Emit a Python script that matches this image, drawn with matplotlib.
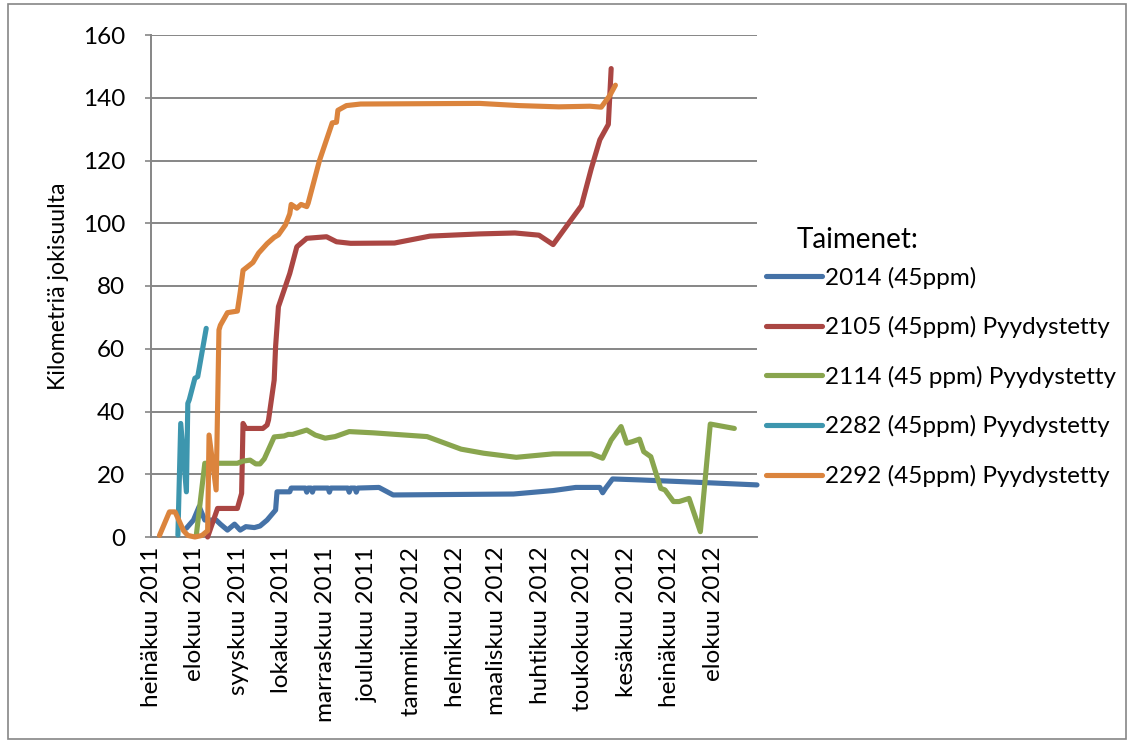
import numpy as np
import pandas as pd
import matplotlib
matplotlib.use("Agg")
import matplotlib.pyplot as plt
from matplotlib.patches import Rectangle

plt.rcParams["font.family"] = ["Lato", "DejaVu Sans"]

# --- data ---
d2014 = ["2011-07-26", "2011-07-31", "2011-08-04", "2011-08-08", "2011-08-16", "2011-08-19",
         "2011-08-24", "2011-08-29", "2011-09-02", "2011-09-06", "2011-09-12", "2011-09-16",
         "2011-09-21", "2011-09-27", "2011-09-28", "2011-10-07", "2011-10-08", "2011-10-18",
         "2011-10-19", "2011-10-20", "2011-10-22", "2011-10-23", "2011-10-24", "2011-11-03",
         "2011-11-04", "2011-11-05", "2011-11-17", "2011-11-18", "2011-11-19", "2011-11-22",
         "2011-11-23", "2011-11-24", "2011-12-09", "2011-12-19", "2012-03-13", "2012-04-10",
         "2012-04-26", "2012-05-13", "2012-05-15", "2012-05-17", "2012-05-22", "2012-06-10",
         "2012-07-28", "2012-09-01"]
v2014 = [2.8, 5.4, 9.7, 5.4, 5.4, 4.1,
         2.2, 4.1, 2.2, 3.3, 3.0, 3.5,
         5.4, 8.6, 14.4, 14.4, 15.6, 15.6,
         14.3, 15.6, 15.6, 14.3, 15.6, 15.6,
         14.3, 15.6, 15.6, 14.3, 15.6, 15.6,
         14.3, 15.6, 15.8, 13.4, 13.7, 14.8,
         15.8, 15.8, 14.1, 15.5, 18.5, 18.2,
         17.3, 16.6]

d2105 = ["2011-08-10", "2011-08-17", "2011-08-31", "2011-09-03", "2011-09-04", "2011-09-06",
         "2011-09-18", "2011-09-21", "2011-09-22", "2011-09-26", "2011-09-27", "2011-09-29",
         "2011-10-03", "2011-10-07", "2011-10-12", "2011-10-19", "2011-11-02", "2011-11-09",
         "2011-11-19", "2011-12-20", "2012-01-14", "2012-02-18", "2012-03-14", "2012-03-31",
         "2012-04-10", "2012-04-30", "2012-05-07", "2012-05-13", "2012-05-19", "2012-05-21"]
v2105 = [0.0, 9.1, 9.1, 13.9, 36.2, 34.6,
         34.6, 35.7, 37.3, 50.0, 60.7, 73.4,
         78.7, 84.0, 92.5, 95.2, 95.7, 94.1,
         93.6, 93.7, 95.9, 96.6, 96.9, 96.2,
         93.2, 105.6, 117.5, 126.6, 131.5, 149.3]

d2114 = ["2011-08-02", "2011-08-08", "2011-08-31", "2011-09-04", "2011-09-09", "2011-09-13",
         "2011-09-16", "2011-09-19", "2011-09-26", "2011-10-03", "2011-10-06", "2011-10-09",
         "2011-10-19", "2011-10-25", "2011-11-01", "2011-11-08", "2011-11-18", "2011-12-05",
         "2012-01-12", "2012-02-05", "2012-02-21", "2012-03-15", "2012-04-10", "2012-05-07",
         "2012-05-15", "2012-05-21", "2012-05-28", "2012-06-01", "2012-06-05", "2012-06-10",
         "2012-06-13", "2012-06-18", "2012-06-25", "2012-06-28", "2012-07-04", "2012-07-08",
         "2012-07-15", "2012-07-23", "2012-07-30", "2012-08-16"]
v2114 = [0.6, 23.5, 23.5, 24.2, 24.5, 23.3,
         23.3, 24.9, 31.9, 32.2, 32.7, 32.7,
         34.1, 32.5, 31.5, 32.0, 33.6, 33.2,
         32.0, 28.0, 26.7, 25.4, 26.5, 26.5,
         25.1, 30.9, 35.2, 29.9, 30.4, 31.2,
         27.2, 25.6, 15.5, 15.0, 11.3, 11.3,
         12.3, 1.7, 36.0, 34.6]

d2282 = ["2011-07-20", "2011-07-22", "2011-07-26", "2011-07-27", "2011-07-28", "2011-08-01",
         "2011-08-03", "2011-08-09"]
v2282 = [0.6, 36.2, 14.4, 42.6, 43.7, 50.6, 51.1, 66.5]

d2292 = ["2011-07-07", "2011-07-14", "2011-07-18", "2011-07-24", "2011-07-27", "2011-08-01",
         "2011-08-06", "2011-08-10", "2011-08-11", "2011-08-16", "2011-08-18", "2011-08-19",
         "2011-08-24", "2011-08-31", "2011-09-02", "2011-09-04", "2011-09-11", "2011-09-15",
         "2011-09-21", "2011-09-26", "2011-09-29", "2011-10-04", "2011-10-07", "2011-10-08",
         "2011-10-12", "2011-10-15", "2011-10-19", "2011-10-20", "2011-10-28", "2011-11-03",
         "2011-11-06", "2011-11-09", "2011-11-10", "2011-11-16", "2011-11-26", "2012-02-18",
         "2012-03-17", "2012-04-14", "2012-05-06", "2012-05-14", "2012-05-20", "2012-05-24"]
v2292 = [0.5, 8.0, 8.0, 2.0, 0.5, 0.0,
         0.5, 2.0, 32.5, 15.0, 66.0, 67.5,
         71.5, 72.0, 78.0, 85.0, 87.5, 90.5,
         93.5, 95.5, 96.3, 99.5, 103.0, 106.0,
         104.8, 106.0, 105.3, 106.4, 120.0, 128.0,
         132.0, 132.2, 136.0, 137.5, 138.0, 138.2,
         137.5, 137.1, 137.3, 137.0, 140.7, 144.0]

series = [
    ("2014 (45ppm)", d2014, v2014, "#4572A7"),
    ("2105 (45ppm) Pyydystetty", d2105, v2105, "#AA4643"),
    ("2114 (45 ppm) Pyydystetty", d2114, v2114, "#89A54E"),
    ("2282 (45ppm) Pyydystetty", d2282, v2282, "#3D96AE"),
    ("2292 (45ppm) Pyydystetty", d2292, v2292, "#DB843D"),
]

x_labels = ["heinäkuu 2011", "elokuu 2011", "syyskuu 2011", "lokakuu 2011",
            "marraskuu 2011", "joulukuu 2011", "tammikuu 2012", "helmikuu 2012",
            "maaliskuu 2012", "huhtikuu 2012", "toukokuu 2012", "kesäkuu 2012",
            "heinäkuu 2012", "elokuu 2012"]
x_ticks = pd.date_range("2011-07-01", periods=len(x_labels), freq="MS")

W, H = 1129, 742
FS = 17.5
fig = plt.figure(figsize=(W / 100, H / 100), dpi=100)
ax = fig.add_axes([151 / W, 1 - 537 / H, (757 - 151) / W, (537 - 35) / H])

grid_c = "#868686"
for lab, d, v, c in series:
    ax.plot(pd.to_datetime(d), v, color=c, lw=3.7, label=lab,
            solid_joinstyle="round", solid_capstyle="round", clip_on=False, zorder=3)

ax.set_ylim(0, 160)
ax.set_yticks(np.arange(0, 161, 20))
ax.set_xlim(pd.Timestamp("2011-07-01"), pd.Timestamp("2012-09-01"))
ax.set_xticks(x_ticks)
ax.set_xticklabels(x_labels, rotation=90, fontsize=FS)
ax.tick_params(axis="x", length=0, pad=7)
ax.tick_params(axis="y", length=4.5, width=1.2, color=grid_c, labelsize=FS, pad=14)
ax.grid(axis="y", color=grid_c, lw=1.4)
ax.set_axisbelow(True)
for s in ("top", "right"):
    ax.spines[s].set_visible(False)
for s in ("left", "bottom"):
    ax.spines[s].set_color(grid_c)
    ax.spines[s].set_linewidth(1.4)
ax.set_ylabel("Kilometriä jokisuulta", fontsize=16.7, labelpad=10)

fig.text(797 / W, 1 - 240 / H, "Taimenet:", fontsize=20, va="center", ha="left")
fig.legend(loc="upper left", bbox_to_anchor=(756 / W, 1 - 257 / H), frameon=False,
           fontsize=FS, handlelength=2.3, handletextpad=0.15, labelspacing=1.13,
           borderaxespad=0)

fig.patches.append(Rectangle((8 / W, 3 / H), 1118 / W, 735 / H, transform=fig.transFigure,
                             fill=False, edgecolor=grid_c, lw=1.2))

fig.savefig("out.png", dpi=100)
